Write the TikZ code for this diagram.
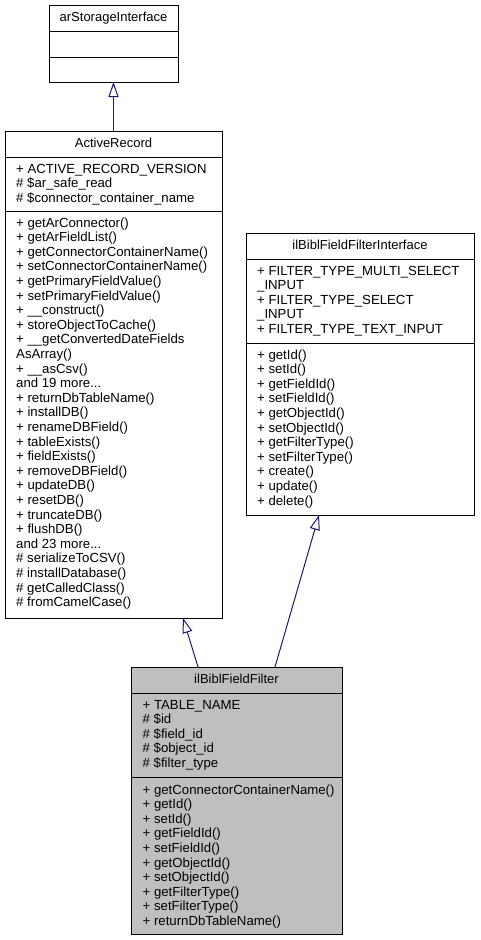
\documentclass[tikz,border=0pt]{standalone}
\usepackage{fontspec}
\setmainfont{Liberation Sans}
\usetikzlibrary{arrows.meta}
\definecolor{edgeblue}{HTML}{191970}
\definecolor{selgrey}{HTML}{BFBFBF}
\newcommand\moredots{...}
\tikzset{
  classbox/.style={draw=black, line width=1pt, rectangle, inner sep=0pt, outer sep=0pt, anchor=north west},
  divider/.style={draw=black, line width=1pt},
  title/.style={inner sep=0pt, anchor=base, font=\fontsize{13}{14.6}\selectfont},
  mem/.style={inner sep=0pt, anchor=base west, font=\fontsize{13.2}{14.6}\selectfont},
  inh/.style={draw=edgeblue, line width=1pt, -{Triangle[open, length=15pt, width=10pt, fill=white]}},
}
\begin{document}
\begin{tikzpicture}[x=1pt, y=-1pt]
\useasboundingbox (0,0) rectangle (480,940);

% arStorageInterface
\node[classbox, minimum width=129pt, minimum height=77pt] (st) at (49,5) {};
\draw[divider] ([yshift=-26pt]st.north west) -- ([yshift=-26pt]st.north east);
\draw[divider] ([yshift=-52pt]st.north west) -- ([yshift=-52pt]st.north east);
\node[title] (st-t) at (113.5,21.5) {arStorageInterface};

% ActiveRecord
\node[classbox, minimum width=217pt, minimum height=487pt] (ar) at (5,131) {};
\draw[divider] ([yshift=-26pt]ar.north west) -- ([yshift=-26pt]ar.north east);
\draw[divider] ([yshift=-80pt]ar.north west) -- ([yshift=-80pt]ar.north east);
\node[title] (ar-t) at (113.5,147) {ActiveRecord};
\foreach \t [count=\i from 0] in {
  {+ ACTIVE\_RECORD\_VERSION},
  {\# \$ar\_safe\_read},
  {\# \$connector\_container\_name}}
  \node[mem] (ar-a\i) at (16,173+\i*14.6) {\t};
\foreach \t [count=\i from 0] in {
  {+ getArConnector()},
  {+ getArFieldList()},
  {+ getConnectorContainerName()},
  {+ setConnectorContainerName()},
  {+ getPrimaryFieldValue()},
  {+ setPrimaryFieldValue()},
  {+ \_\_construct()},
  {+ storeObjectToCache()},
  {+ \_\_getConvertedDateFields},
  {AsArray()},
  {+ \_\_asCsv()},
  {and 19 more\moredots},
  {+ returnDbTableName()},
  {+ installDB()},
  {+ renameDBField()},
  {+ tableExists()},
  {+ fieldExists()},
  {+ removeDBField()},
  {+ updateDB()},
  {+ resetDB()},
  {+ truncateDB()},
  {+ flushDB()},
  {and 23 more\moredots},
  {\# serializeToCSV()},
  {\# installDatabase()},
  {\# getCalledClass()},
  {\# fromCamelCase()}}
  \node[mem] (ar-m\i) at (16,227+\i*14.6) {\t};

% ilBiblFieldFilterInterface
\node[classbox, minimum width=228pt, minimum height=282pt] (if) at (246,233) {};
\draw[divider] ([yshift=-26pt]if.north west) -- ([yshift=-26pt]if.north east);
\draw[divider] ([yshift=-110pt]if.north west) -- ([yshift=-110pt]if.north east);
\node[title] (if-t) at (360,249) {ilBiblFieldFilterInterface};
\foreach \t [count=\i from 0] in {
  {+ FILTER\_TYPE\_MULTI\_SELECT},
  {\_INPUT},
  {+ FILTER\_TYPE\_SELECT},
  {\_INPUT},
  {+ FILTER\_TYPE\_TEXT\_INPUT}}
  \node[mem] (if-a\i) at (257,275+\i*14.6) {\t};
\foreach \t [count=\i from 0] in {
  {+ getId()},
  {+ setId()},
  {+ getFieldId()},
  {+ setFieldId()},
  {+ getObjectId()},
  {+ setObjectId()},
  {+ getFilterType()},
  {+ setFilterType()},
  {+ create()},
  {+ update()},
  {+ delete()}}
  \node[mem] (if-m\i) at (257,359+\i*14.6) {\t};

% ilBiblFieldFilter
\node[classbox, fill=selgrey, minimum width=211pt, minimum height=267pt] (fl) at (131,667) {};
\draw[divider] ([yshift=-26pt]fl.north west) -- ([yshift=-26pt]fl.north east);
\draw[divider] ([yshift=-110pt]fl.north west) -- ([yshift=-110pt]fl.north east);
\node[title] (fl-t) at (236.5,683) {ilBiblFieldFilter};
\foreach \t [count=\i from 0] in {
  {+ TABLE\_NAME},
  {\# \$id},
  {\# \$field\_id},
  {\# \$object\_id},
  {\# \$filter\_type}}
  \node[mem] (fl-a\i) at (142.5,709+\i*14.6) {\t};
\foreach \t [count=\i from 0] in {
  {+ getConnectorContainerName()},
  {+ getId()},
  {+ setId()},
  {+ getFieldId()},
  {+ setFieldId()},
  {+ getObjectId()},
  {+ setObjectId()},
  {+ getFilterType()},
  {+ setFilterType()},
  {+ returnDbTableName()}}
  \node[mem] (fl-m\i) at (142.5,794+\i*14.6) {\t};

% inheritance edges
\draw[inh] (ar.north) -- (st.south);
\draw[inh] ([xshift=67pt]fl.north west) -- ([xshift=178pt]ar.south west);
\draw[inh] ([xshift=144pt]fl.north west) -- ([xshift=73pt]if.south west);
\end{tikzpicture}
\end{document}
